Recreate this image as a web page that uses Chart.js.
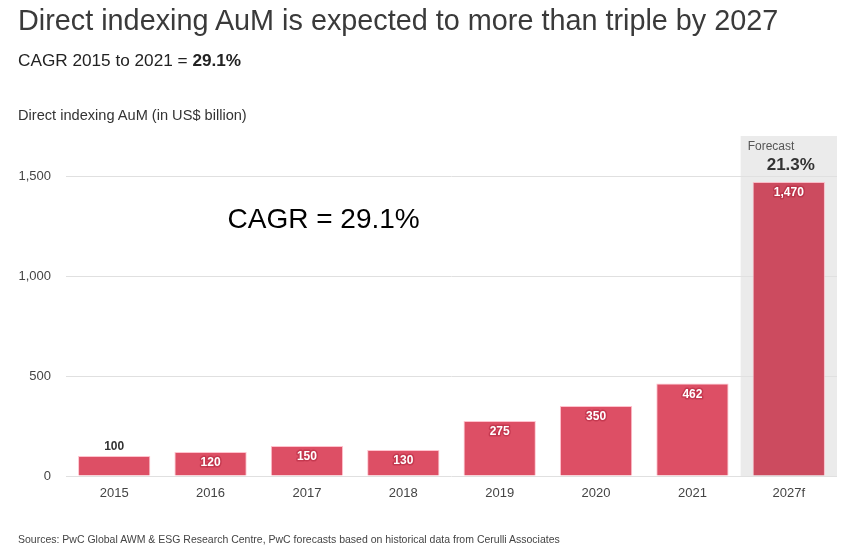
<!DOCTYPE html>
<html><head><meta charset="utf-8">
<script src="https://cdn.jsdelivr.net/npm/chart.js@4/dist/chart.umd.min.js"></script>
<style>
html,body{margin:0;padding:0;background:#fff;}
#wrap{position:relative;width:858px;height:560px;overflow:hidden;font-family:"Liberation Sans",Arial,sans-serif;color:#333;}
#wrap canvas{position:absolute;left:0;top:0;}
.t{position:absolute;left:18px;white-space:nowrap;}
#title{top:4px;font-size:28.8px;color:#3a3a3a;}
#sub{top:50px;font-size:17.2px;color:#222;}
#ytitle{top:107px;font-size:14.6px;color:#333;}
#src{top:533px;font-size:10.5px;color:#444;}
</style></head>
<body><div id="wrap">
<canvas id="c" width="858" height="560"></canvas>
<div class="t" id="title">Direct indexing AuM is expected to more than triple by 2027</div>
<div class="t" id="sub">CAGR 2015 to 2021 = <b>29.1%</b></div>
<div class="t" id="ytitle">Direct indexing AuM (in US$ billion)</div>
<div class="t" id="src">Sources: PwC Global AWM &amp; ESG Research Centre, PwC forecasts based on historical data from Cerulli Associates</div>
</div>
<script>
const categories = ['2015','2016','2017','2018','2019','2020','2021','2027f'];
const values = [100, 120, 150, 130, 275, 350, 462, 1470];
const yTicks = [0, 500, 1000, 1500];
const yMax = 1700;
const barColors = ['#dd4f65','#dd4f65','#dd4f65','#dd4f65','#dd4f65','#dd4f65','#dd4f65','#cc4b5f'];
const forecastIndex = 7;
const forecastTitle = 'Forecast';
const forecastCagr = '21.3%';
const cagrNote = 'CAGR = 29.1%';
const FONT = '"Liberation Sans", Arial, sans-serif';
const fmt = v => Number(v).toLocaleString('en-US');

const bandPlugin = {
  id: 'band',
  beforeDraw(chart) {
    const {ctx, chartArea, scales} = chart;
    const x = scales.x;
    const w = x.width / categories.length;
    const cx = x.getPixelForValue(forecastIndex);
    ctx.save();
    ctx.fillStyle = '#ebebeb';
    ctx.fillRect(cx - w/2, chartArea.top, w, chartArea.bottom - chartArea.top);
    ctx.restore();
  },
  afterDraw(chart) {
    const {ctx, chartArea, scales} = chart;
    const x = scales.x, y = scales.y;
    const w = x.width / categories.length;
    const cx = x.getPixelForValue(forecastIndex);
    ctx.save();
    ctx.textBaseline = 'middle';
    ctx.textAlign = 'left';
    ctx.fillStyle = '#555';
    ctx.font = '12px ' + FONT;
    ctx.fillText(forecastTitle, cx - w/2 + 7, chartArea.top + 11);
    ctx.textAlign = 'center';
    ctx.fillStyle = '#333';
    ctx.font = 'bold 17px ' + FONT;
    ctx.fillText(forecastCagr, cx + 2, chartArea.top + 29);
    // annotation
    ctx.textAlign = 'left';
    ctx.fillStyle = '#000';
    ctx.font = '28px ' + FONT;
    ctx.fillText(cagrNote, x.getPixelForValue(1) + 17, y.getPixelForValue(1280));
    ctx.restore();
  }
};

const labelPlugin = {
  id: 'vlabels',
  afterDatasetsDraw(chart) {
    const {ctx} = chart;
    const meta = chart.getDatasetMeta(0);
    ctx.save();
    ctx.textAlign = 'center';
    ctx.textBaseline = 'middle';
    ctx.font = 'bold 12px ' + FONT;
    meta.data.forEach((bar, i) => {
      const h = bar.base - bar.y;
      const txt = fmt(values[i]);
      if (h < 22) {
        ctx.fillStyle = '#333';
        ctx.fillText(txt, bar.x, bar.y - 9);
      } else {
        ctx.lineWidth = 3;
        ctx.lineJoin = 'round';
        ctx.strokeStyle = 'rgba(170,30,55,0.45)';
        ctx.strokeText(txt, bar.x, bar.y + 11);
        ctx.fillStyle = '#fff';
        ctx.fillText(txt, bar.x, bar.y + 11);
      }
    });
    ctx.restore();
  }
};

new Chart(document.getElementById('c'), {
  type: 'bar',
  data: {
    labels: categories,
    datasets: [{
      data: values,
      backgroundColor: barColors,
      borderColor: 'rgba(255,170,185,0.7)',
      borderWidth: 1,
      borderSkipped: 'bottom',
      barPercentage: 0.75,
      categoryPercentage: 1.0
    }]
  },
  options: {
    responsive: false,
    animation: false,
    devicePixelRatio: 1,
    layout: { padding: { top: 136, right: 21, bottom: 44, left: 0 } },
    plugins: { legend: { display: false }, tooltip: { enabled: false } },
    scales: {
      x: {
        grid: { display: false, drawTicks: false },
        border: { display: false },
        ticks: { color: '#444', font: { family: FONT, size: 13 }, padding: 10 },
        afterFit(s) { s.height = 40; }
      },
      y: {
        min: 0, max: yMax,
        grid: { color: '#e0e0e0', lineWidth: 1, drawTicks: false },
        border: { display: false },
        afterBuildTicks(s) { s.ticks = yTicks.map(v => ({ value: v })); },
        ticks: { color: '#444', font: { family: FONT, size: 13 }, padding: 15, callback: v => fmt(v) },
        afterFit(s) { s.width = 66; }
      }
    }
  },
  plugins: [bandPlugin, labelPlugin]
});
</script>
</body></html>
